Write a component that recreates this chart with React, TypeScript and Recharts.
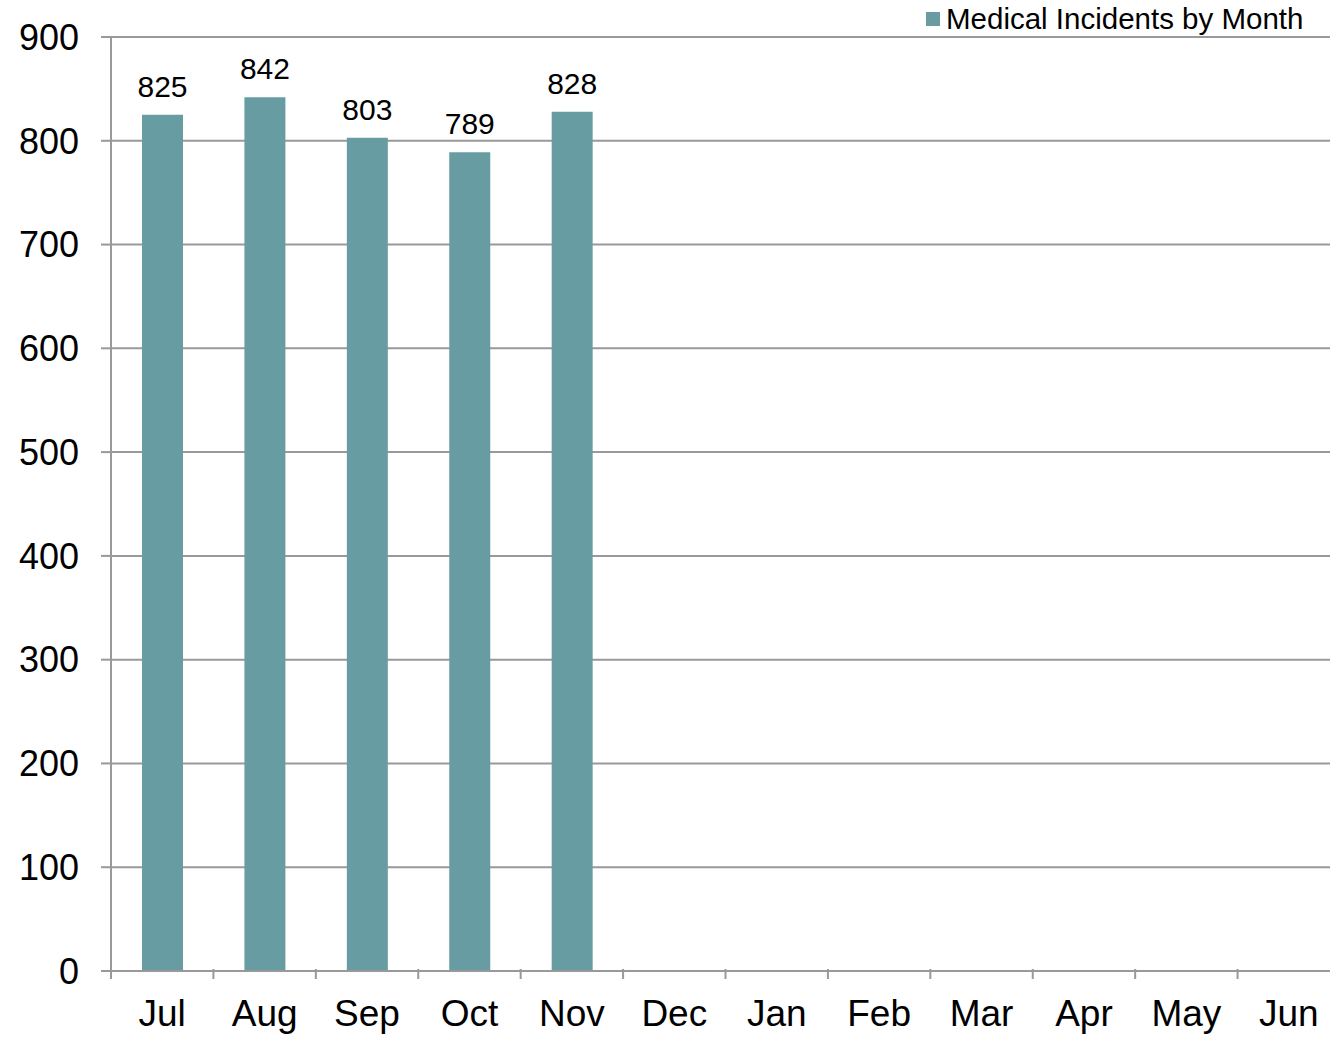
import { BarChart, Bar, XAxis, YAxis, CartesianGrid, LabelList } from 'recharts'

const months = ['Jul', 'Aug', 'Sep', 'Oct', 'Nov', 'Dec', 'Jan', 'Feb', 'Mar', 'Apr', 'May', 'Jun']
const incidents: (number | null)[] = [825, 842, 803, 789, 828, null, null, null, null, null, null, null]
const yTicks = [0, 100, 200, 300, 400, 500, 600, 700, 800, 900]

const SERIES = 'Medical Incidents by Month'
const BAR = '#679CA3'
const AXIS = '#999999'
const FONT = '"Liberation Sans", Arial, sans-serif'

// the plot runs a little past the right edge of the picture, so draw wider and clip
const W = 1340
const H = 1038
const PLOT_LEFT = 111
const bandW = (W - PLOT_LEFT) / months.length

const data = months.map((m, i) => ({ month: m, value: incidents[i] }))

function MonthTick(props: any) {
  const { x, y, payload } = props
  const left = x - bandW / 2
  return (
    <g>
      <line x1={left} y1={y - 10} x2={left} y2={y} stroke={AXIS} strokeWidth={2} />
      <text x={x} y={y + 47} textAnchor="middle" fontSize={37} fill="#000" fontFamily={FONT}>
        {payload.value}
      </text>
    </g>
  )
}

export default function App() {
  return (
    <div style={{ position: 'absolute', left: 0, top: 0, width: 1330, height: H, overflow: 'hidden', background: '#fff' }}>
      <BarChart
        width={W}
        height={H}
        data={data}
        margin={{ top: 37, right: 0, left: 0, bottom: 0 }}
        barSize={41}
      >
        <CartesianGrid vertical={false} stroke={AXIS} strokeWidth={2} />
        <XAxis
          dataKey="month"
          height={67}
          tick={<MonthTick />}
          tickLine={false}
          axisLine={{ stroke: AXIS, strokeWidth: 2 }}
          interval={0}
        />
        <YAxis
          width={PLOT_LEFT}
          domain={[0, 900]}
          ticks={yTicks}
          interval={0}
          tickSize={10}
          tickMargin={22}
          tickLine={{ stroke: AXIS, strokeWidth: 2 }}
          axisLine={{ stroke: AXIS, strokeWidth: 2 }}
          tick={{ fontSize: 36, fill: '#000', fontFamily: FONT }}
        />
        <Bar dataKey="value" name={SERIES} fill={BAR} isAnimationActive={false}>
          <LabelList
            dataKey="value"
            position="top"
            offset={18}
            fontSize={30}
            fill="#000"
            fontFamily={FONT}
          />
        </Bar>
      </BarChart>
      <div
        style={{
          position: 'absolute', top: 2, left: 926, display: 'flex', alignItems: 'center',
          fontFamily: FONT, fontSize: 29.5, color: '#000', whiteSpace: 'nowrap',
        }}
      >
        <span style={{ width: 14, height: 14, background: BAR, display: 'inline-block', marginRight: 6 }} />
        {SERIES}
      </div>
    </div>
  )
}
